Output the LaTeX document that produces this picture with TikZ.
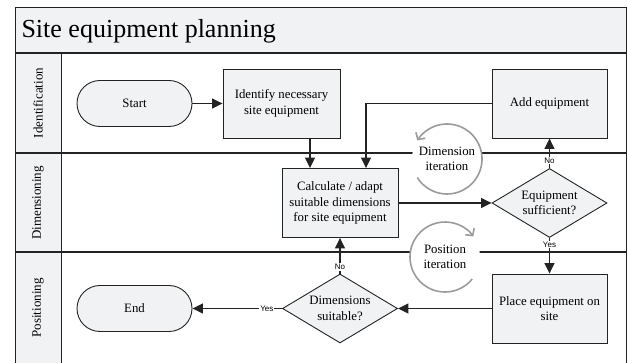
\documentclass[tikz,border=0pt]{standalone}
\usepackage{fontspec}
\setmainfont{Liberation Serif}
\newfontfamily\labelfont{Liberation Sans}
\usetikzlibrary{arrows.meta,shapes.geometric}
\definecolor{boxfill}{RGB}{241,242,244}
\definecolor{linec}{RGB}{35,35,35}
\definecolor{arcc}{RGB}{155,155,155}
\begin{document}
\begin{tikzpicture}[x=1pt,y=1pt,
 box/.style={draw=linec, line width=0.9pt, fill=boxfill, minimum width=115pt, minimum height=69pt, align=center, font=\fontsize{12.8}{15.5}\selectfont, inner sep=2pt},
 term/.style={box, rounded corners=23pt, minimum height=46pt},
 dec/.style={box, shape=diamond, aspect=1.67, inner sep=0pt},
 arr/.style={draw=linec, line width=1.1pt, -{Triangle[length=10.5pt,width=10pt]}},
 lbl/.style={fill=white, inner sep=1pt, font=\labelfont\fontsize{8}{9}\selectfont},
 lane/.style={draw=linec, line width=1.4pt},
 lanelabel/.style={rotate=90, font=\fontsize{13}{15}\selectfont},
 iter/.style={circle, fill=white, minimum size=70pt, inner sep=0pt, align=center, font=\fontsize{12.8}{15.5}\selectfont},
 iterarc/.style={draw=arcc, line width=1.6pt, -{Straight Barb[length=5pt,width=11pt]}}]
\useasboundingbox (0,0) rectangle (628,363);
% frame and lanes
\fill[boxfill] (15,310) rectangle (626,355);
\fill[boxfill] (15,0) rectangle (61,310);
\draw[linec, line width=1pt] (15,0) -- (15,355) -- (626,355) -- (626,0);
\draw[lane] (15,310) -- (626,310);
\draw[lane] (15,210) -- (626,210);
\draw[lane] (15,111) -- (626,111);
\draw[linec, line width=1pt] (61,0) -- (61,310);
\node[anchor=west, font=\fontsize{26}{30}\selectfont] (title) at (18,332) {Site equipment planning};
\node[lanelabel] (l1) at (38,260) {Identification};
\node[lanelabel] (l2) at (38,160) {Dimensioning};
\node[lanelabel] (l3) at (38,55) {Positioning};
% iteration markers
\node[iter] (dimit) at (447,204) {Dimension\\iteration};
\draw[iterarc] ([shift={(212:35pt)}]dimit.center) arc[start angle=212, end angle=508, radius=35pt];
\node[iter] (posit) at (445,106) {Position\\iteration};
\draw[iterarc] ([shift={(-39:35pt)}]posit.center) arc[start angle=-39, end angle=-324, radius=35pt];
% nodes
\node[term] (start) at (134.5,259.5) {Start};
\node[box, minimum width=117pt] (ident) at (281.5,259.5) {Identify necessary\\site equipment};
\node[box] (add) at (549.5,259.5) {Add equipment};
\node[box, minimum width=116pt] (calc) at (340,160) {Calculate / adapt\\suitable dimensions\\for site equipment};
\node[dec] (suff) at (549.5,160) {Equipment\\sufficient?};
\node[dec] (suit) at (340,54.5) {Dimensions\\suitable?};
\node[box] (place) at (549.5,54.5) {Place equipment on\\site};
\node[term] (stop) at (134.5,54.5) {End};
% connectors
\coordinate (c1) at (310,0);
\coordinate (c2) at (366,0);
\draw[arr] (start) -- (ident);
\draw[arr] (ident.south -| c1) -- (calc.north -| c1);
\draw[arr] (add.west) -| (calc.north -| c2);
\draw[arr] (calc) -- (suff);
\draw[arr] (suff) -- node[lbl, pos=0.25] {No} (add);
\draw[arr] (suff) -- node[lbl, pos=0.18] {Yes} (place);
\draw[arr] (place) -- (suit);
\draw[arr] (suit) -- node[lbl, pos=0.19] {No} (calc);
\draw[arr] (suit) -- node[lbl, pos=0.17] {Yes} (stop);
\end{tikzpicture}
\end{document}
